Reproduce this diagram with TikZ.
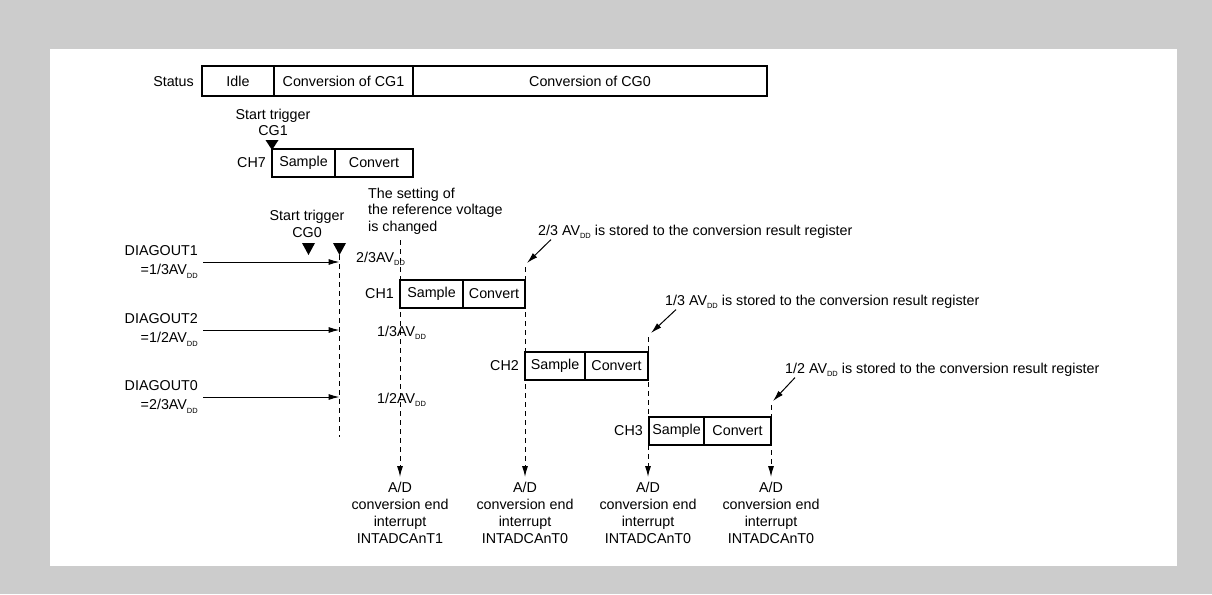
\documentclass[tikz,border=0pt]{standalone}
\usepackage{fontspec}
\setmainfont{Liberation Sans}
\usetikzlibrary{arrows.meta}
\definecolor{bggray}{HTML}{CCCCCC}
\newcommand{\subDD}{\raisebox{-3.5pt}{\fontsize{7.5}{7.5}\selectfont DD}}
\tikzset{
  seg/.style={draw, line width=2.6pt, inner sep=0pt, outer sep=0pt, minimum height=28pt},
  lbl/.style={inner sep=0pt},
  vdash/.style={line width=1pt, dash pattern=on 5pt off 4pt},
  ptr/.style={line width=1pt, -{Latex[length=11pt,width=6pt]}},
}
\begin{document}
\begin{tikzpicture}[x=1pt, y=-1pt, font=\fontsize{14.3}{17}\selectfont]
  % 背景
  \fill[bggray] (0,0) rectangle (1212,594);
  \fill[white] (50,49) rectangle (1177,566);
  % 状态栏
  \node[lbl, anchor=east] (status) at (194,82) {Status};
  \node[seg, minimum width=72pt, minimum height=30pt] (idle) at (238,81) {Idle};
  \node[seg, minimum width=139pt, minimum height=30pt] (cvcg1) at (343.5,81) {Conversion of CG1};
  \node[seg, minimum width=354pt, minimum height=30pt] (cvcg0) at (590,81) {Conversion of CG0};
  % CG1 启动触发
  \node[lbl, align=center, font=\fontsize{14.3}{16}\selectfont] (trg1) at (273,122) {Start trigger\\CG1};
  \fill (265.5,140) -- (278.5,140) -- (272,150) -- cycle;
  % 各通道 Sample/Convert
  \foreach \ch/\x/\y/\ws/\wc in {7/272/149/63/78, 1/400/280/63/62, 2/525/352/60/63, 3/649/417/55/67}{
    \node[seg, anchor=north west, minimum width=\ws pt] (s\ch) at (\x,\y) {Sample};
    \node[seg, anchor=north west, minimum width=\wc pt] (c\ch) at (s\ch.north east) {Convert};
    \node[lbl, anchor=east] (ch\ch) at ([xshift=-6pt]s\ch.west) {CH\ch};
  }
  % CG0 启动触发
  \node[lbl, align=center] (trg0) at (307,224) {Start trigger\\CG0};
  \coordinate (t0) at (339.5,255);
  \fill (302,243) -- (315,243) -- (308.5,255) -- cycle;
  \fill (333,243) -- (346,243) -- (339.5,255) -- cycle;
  \draw[vdash] (t0) -- (339.5,437);
  % DIAGOUT 输入
  \foreach \n/\y/\v in {1/262/{1/3}, 2/330/{1/2}, 0/397/{2/3}}{
    \node[lbl, align=right, anchor=east, font=\fontsize{14.3}{19}\selectfont] (dg\n) at (198,\y) {DIAGOUT\n\\=\v AV\subDD};
    \draw[ptr] ([xshift=5pt]dg\n.east) -- (dg\n.east -| t0);
  }
  % 参考电压
  \node[lbl, align=left, anchor=west, font=\fontsize{14.3}{16.5}\selectfont] (refv) at (368,211) {The setting of\\the reference voltage\\is changed};
  \node[lbl, anchor=base west] (v23) at (356,262) {2/3AV\subDD};
  \node[lbl, anchor=base west] (v13) at (377,336) {1/3AV\subDD};
  \node[lbl, anchor=base west] (v12) at (377,403) {1/2AV\subDD};
  % 转换结束中断
  \foreach \n/\x/\yt/\nr in {a/400/240/1, b/525/267/0, c/648/337/0, d/771/405/0}{
    \coordinate (top\n) at (\x,\yt);
    \node[lbl, align=center, anchor=north] (int\n) at (\x,482) {A/D\\conversion end\\interrupt\\INTADCAnT\nr};
    \draw[vdash, -{Latex[length=11pt,width=6pt]}] (top\n) -- ([yshift=5pt]int\n.north);
  }
  % 结果寄存器
  \node[lbl, anchor=base west] (st23) at (538,235) {2/3 AV\subDD{} is stored to the conversion result register};
  \node[lbl, anchor=base west] (st13) at (665,305) {1/3 AV\subDD{} is stored to the conversion result register};
  \node[lbl, anchor=base west] (st12) at (785,373) {1/2 AV\subDD{} is stored to the conversion result register};
  \draw[ptr] ([xshift=13pt,yshift=-8pt]st23.west) -- ([xshift=2pt,yshift=4pt]topb);
  \draw[ptr] ([xshift=11pt,yshift=-8pt]st13.west) -- ([xshift=3pt,yshift=4pt]topc);
  \draw[ptr] ([xshift=10pt,yshift=-8pt]st12.west) -- ([xshift=2pt,yshift=4pt]topd);
\end{tikzpicture}
\end{document}
